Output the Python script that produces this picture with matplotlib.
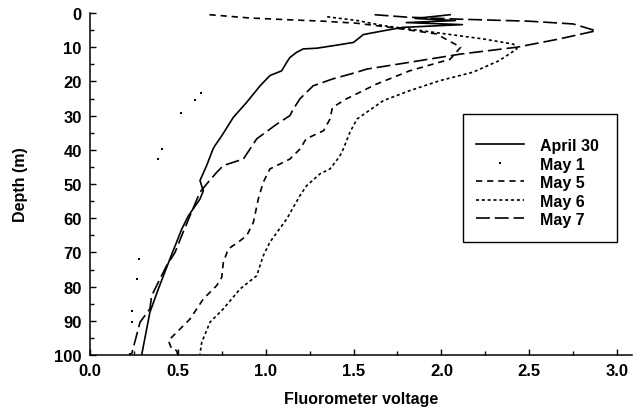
import matplotlib
matplotlib.use('Agg')
import matplotlib.pyplot as plt
from matplotlib.ticker import MultipleLocator
from matplotlib.patches import Rectangle

plt.rcParams['font.family'] = ['Liberation Sans', 'DejaVu Sans']
plt.rcParams['font.weight'] = 'bold'
plt.rcParams['lines.scale_dashes'] = False

# profiles: voltage (x) against depth in m (y)
apr30_v = [2.05, 1.85, 2.08, 1.80, 2.12, 1.78, 1.67, 1.556, 1.50, 1.404, 1.29, 1.214, 1.176,
           1.138, 1.12, 1.091, 1.024, 0.968, 0.892, 0.816, 0.75, 0.711, 0.70, 0.664, 0.626,
           0.645, 0.626, 0.56, 0.522, 0.455, 0.389, 0.341, 0.294]
apr30_d = [0.5, 1.6, 2.2, 2.8, 3.4, 4.2, 5.2, 6.3, 8.6, 9.4, 10.3, 10.5, 11.5,
           13.0, 14.4, 16.9, 18.3, 21.3, 26.1, 30.5, 35.9, 38.8, 39.8, 44.6, 49.0,
           52.0, 54.4, 59.3, 63.2, 71.9, 80.7, 87.5, 100.0]

may1_v = [0.63, 0.60, 0.516, 0.408, 0.389, 0.28, 0.266, 0.24, 0.237, 0.23]
may1_d = [23.4, 25.3, 29.2, 39.8, 42.7, 71.9, 77.8, 87.0, 90.3, 99.7]

may5_v = [0.68, 0.91, 1.14, 1.33, 1.52, 1.71, 1.97, 2.11, 2.05, 1.82, 1.63, 1.46, 1.38,
          1.366, 1.33, 1.23, 1.195, 1.138, 1.024, 0.986, 0.958, 0.93, 0.892, 0.854, 0.787,
          0.759, 0.75, 0.721, 0.645, 0.569, 0.493, 0.446, 0.465, 0.493, 0.50]
may5_d = [0.5, 1.46, 2.0, 2.4, 3.0, 4.2, 6.1, 10.0, 13.5, 16.9, 20.8, 25.1, 27.6,
          31.0, 34.4, 36.8, 39.8, 42.7, 45.6, 49.5, 54.4, 61.2, 65.1, 66.6, 69.0,
          72.9, 77.3, 79.7, 83.6, 89.5, 93.4, 95.8, 98.2, 98.7, 100.0]

may6_v = [1.35, 1.52, 1.67, 1.95, 2.24, 2.41, 2.43, 2.33, 2.18, 1.99, 1.82, 1.67, 1.52,
          1.48, 1.44, 1.42, 1.366, 1.31, 1.233, 1.195, 1.12, 1.024, 0.986, 0.949, 0.854,
          0.759, 0.683, 0.636, 0.626]
may6_d = [1.1, 2.2, 3.7, 5.6, 7.6, 9.1, 10.5, 13.9, 17.3, 19.8, 22.7, 25.6, 31.0,
          34.8, 40.0, 42.0, 45.6, 47.0, 50.5, 53.4, 60.2, 67.0, 71.0, 76.8, 80.7,
          86.5, 90.4, 96.3, 99.7]

may7_v = [1.62, 1.80, 2.10, 2.50, 2.75, 2.88, 2.67, 2.43, 2.11, 1.76, 1.575, 1.52, 1.38,
          1.27, 1.195, 1.157, 1.138, 1.063, 0.949, 0.873, 0.759, 0.721, 0.664, 0.626,
          0.569, 0.522, 0.484, 0.436, 0.389, 0.351, 0.341, 0.285, 0.237]
may7_d = [0.5, 1.2, 1.8, 2.4, 3.2, 5.2, 7.6, 10.0, 12.0, 14.9, 16.4, 17.3, 19.3,
          21.3, 25.1, 28.1, 30.0, 32.5, 36.8, 42.7, 44.6, 46.6, 50.0, 52.4,
          59.3, 65.1, 70.0, 73.9, 78.7, 82.7, 86.5, 90.4, 99.7]

W, H = 634, 414
fig = plt.figure(figsize=(W/100, H/100), dpi=100)
ax = fig.add_axes([90/W, 58/H, 542/W, 342/H])

lw = 1.2
ax.plot(apr30_v, apr30_d, color='black', lw=lw, label='April 30')
ax.plot(may1_v, may1_d, color='black', ls='none', marker='s', ms=1.6, mew=0, label='May 1')
ax.plot(may5_v, may5_d, color='black', lw=lw, dashes=(4.5, 3.5), label='May 5')
ax.plot(may6_v, may6_d, color='black', lw=lw, dashes=(2.2, 2.0), label='May 6')
ax.plot(may7_v, may7_d, color='black', lw=lw, dashes=(10, 3.5), label='May 7')

ax.set_xlim(0, 3.085)
ax.set_ylim(100, 0)
ax.xaxis.set_major_locator(MultipleLocator(0.5))
ax.xaxis.set_minor_locator(MultipleLocator(0.25))
ax.yaxis.set_major_locator(MultipleLocator(10))
ax.yaxis.set_minor_locator(MultipleLocator(5))
ax.xaxis.set_major_formatter(plt.FormatStrFormatter('%.1f'))

for side in ['top', 'right']:
    ax.spines[side].set_visible(False)
for side in ['left', 'bottom']:
    ax.spines[side].set_linewidth(1.1)

ax.tick_params(which='both', direction='in', width=1, labelsize=12, pad=6)
ax.tick_params(which='major', length=4.5)
ax.tick_params(which='minor', length=3)
for lab in ax.get_xticklabels() + ax.get_yticklabels():
    lab.set_fontweight('bold')

ax.set_xlabel('Fluorometer voltage', fontsize=11.5, fontweight='bold', labelpad=9)
ax.set_ylabel('Depth (m)', fontsize=11.5, fontweight='bold', labelpad=19)

# legend frame drawn by hand (more padding on top than at the sides)
fig.patches.append(Rectangle((463/W, 1 - 243/H), 154/W, 128/H, transform=fig.transFigure,
                             fill=False, edgecolor='black', linewidth=1.0))
leg = ax.legend(loc='upper left', bbox_to_anchor=(476/W, 1 - 139/H),
                bbox_transform=fig.transFigure, frameon=False,
                fontsize=11.5, borderpad=0, labelspacing=0.22,
                handlelength=3.0, handletextpad=1.0, numpoints=1, borderaxespad=0)
for t in leg.get_texts():
    t.set_fontweight('bold')

fig.savefig('out.png', dpi=100)
